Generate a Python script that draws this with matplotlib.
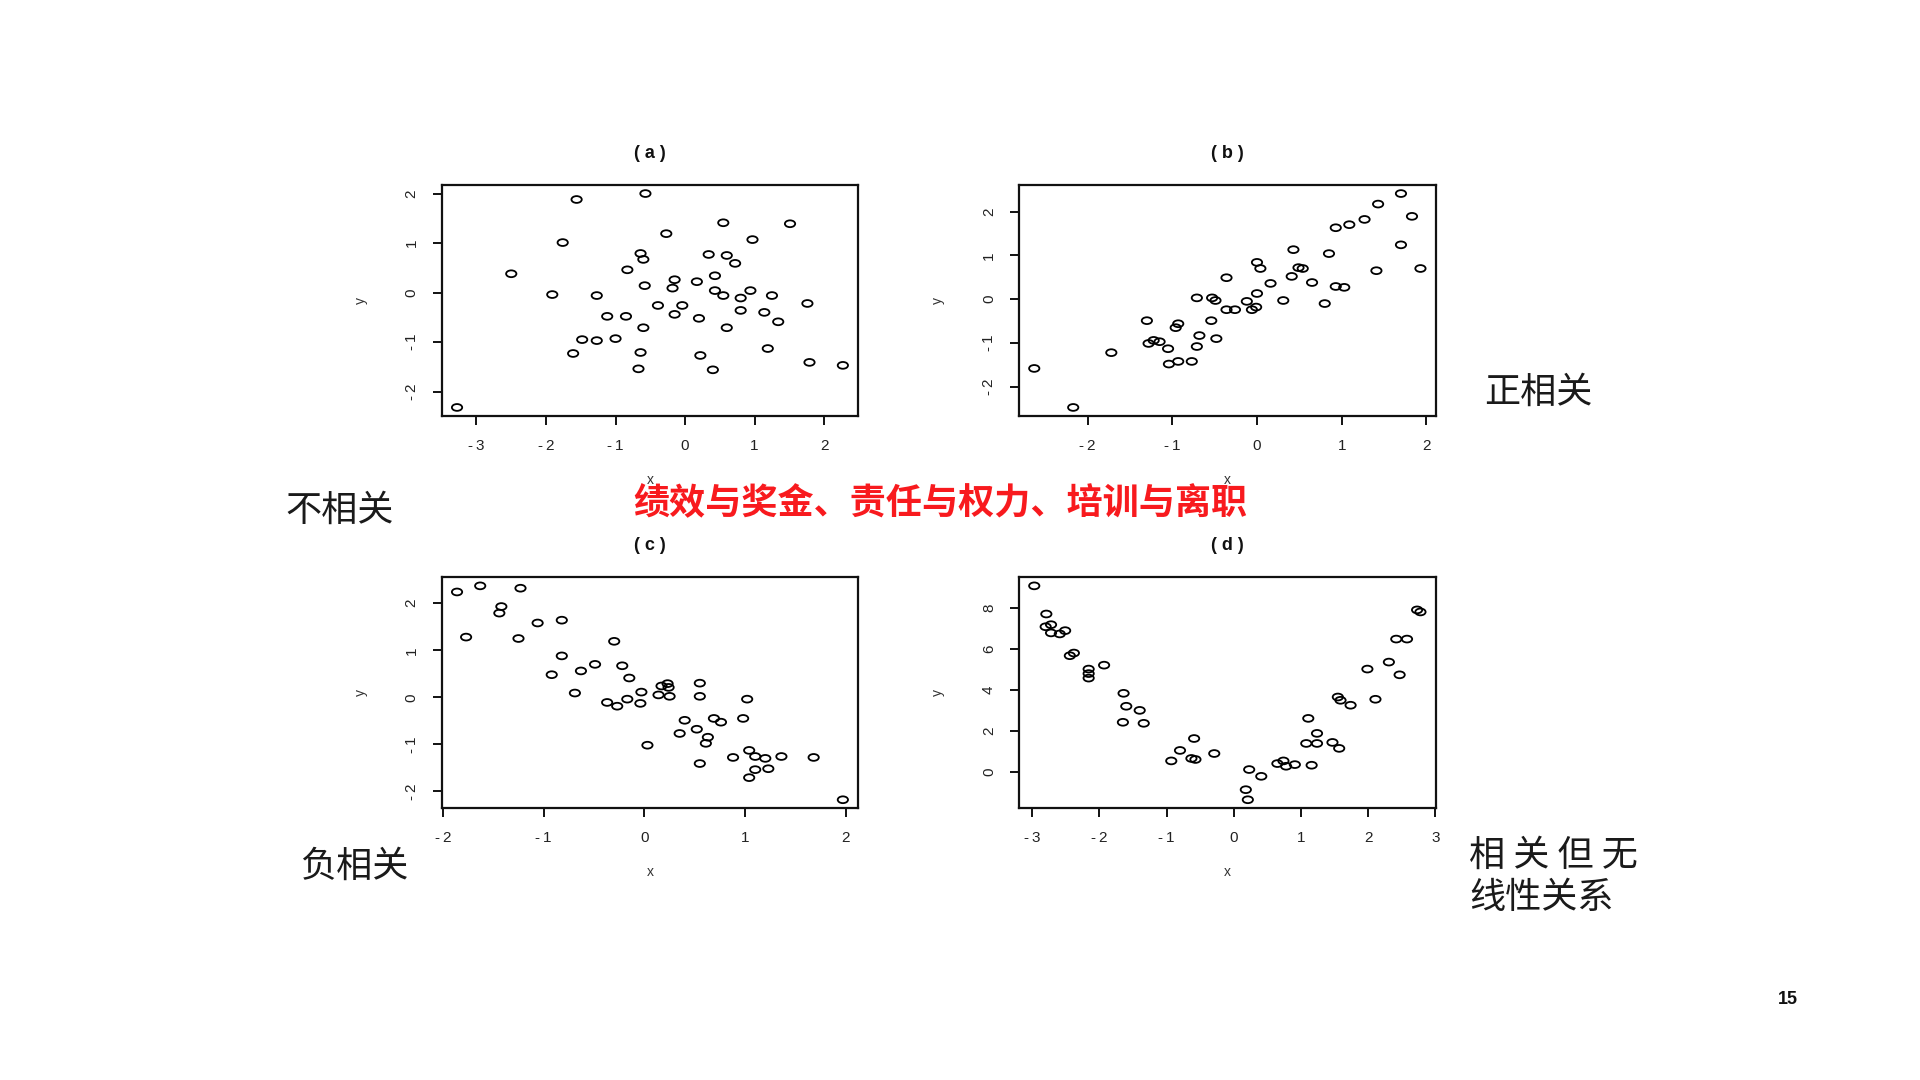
import matplotlib
matplotlib.use("Agg")
import matplotlib.pyplot as plt
from matplotlib.path import Path
from matplotlib.transforms import Affine2D

# ---------------- data ----------------
# (a) no correlation
x_a = [-3.28, -1.56, -0.57, 0.55, 1.51, -0.27, -1.76, 0.97, -0.64, -0.60,
       0.34, 0.60, 0.72, -2.50, -0.83, 0.43, -0.15, 0.17, -0.58, -0.18,
       0.43, 0.94, -1.91, -1.27, 0.55, 1.25, 0.80, 1.76, -0.39, -0.04,
       0.80, 1.14, -0.15, -1.12, -0.85, 0.20, 1.34, -0.60, 0.60, -1.00,
       -1.48, -1.27, 1.19, -1.61, -0.64, 0.22, 1.79, 2.27, -0.67, 0.40]
y_a = [-2.32, 1.88, 2.00, 1.41, 1.39, 1.19, 1.01, 1.07, 0.79, 0.67,
       0.77, 0.75, 0.59, 0.38, 0.46, 0.34, 0.26, 0.22, 0.14, 0.09,
       0.04, 0.04, -0.04, -0.06, -0.06, -0.06, -0.11, -0.22, -0.26, -0.26,
       -0.36, -0.40, -0.44, -0.48, -0.48, -0.52, -0.59, -0.71, -0.71, -0.93,
       -0.95, -0.97, -1.13, -1.23, -1.21, -1.27, -1.41, -1.47, -1.54, -1.56]

# (b) positive correlation
x_b = [-2.63, -2.17, -1.72, -1.30, -1.28, -1.22, -1.15, -1.05, -1.04, -0.93,
       -0.96, -0.93, -0.77, -0.71, -0.68, -0.71, -0.53, -0.49, -0.54, -0.48,
       -0.36, -0.36, -0.26, -0.12, -0.06, -0.01, 0.00, 0.04, 0.00, 0.16,
       0.31, 0.41, 0.43, 0.49, 0.54, 0.65, 0.80, 0.85, 0.93, 0.93,
       1.03, 1.09, 1.27, 1.41, 1.43, 1.70, 1.70, 1.83, 1.93]
y_b = [-1.58, -2.47, -1.22, -0.49, -1.01, -0.94, -0.97, -1.13, -1.48, -0.56,
       -0.65, -1.42, -1.42, 0.03, -0.83, -1.08, 0.03, -0.03, -0.49, -0.90,
       0.49, -0.24, -0.24, -0.05, -0.24, -0.18, 0.84, 0.70, 0.13, 0.36,
       -0.03, 0.52, 1.13, 0.72, 0.70, 0.38, -0.10, 1.04, 1.63, 0.29,
       0.27, 1.70, 1.82, 0.65, 2.17, 2.41, 1.24, 1.89, 0.70]

# (c) negative correlation
x_c = [-1.86, -1.63, -1.23, -1.42, -1.44, -1.06, -0.82, -1.77, -1.25, -0.30,
       -0.82, -0.49, -0.63, -0.92, -0.22, -0.15, -0.69, -0.37, -0.27, -0.17,
       -0.04, -0.03, 0.14, 0.17, 0.23, 0.24, 0.25, 0.55, 0.55, 0.03,
       0.40, 0.35, 0.52, 0.69, 0.76, 0.63, 0.61, 0.55, 1.02, 0.98,
       0.88, 1.04, 1.10, 1.20, 1.36, 1.10, 1.23, 1.04, 1.68, 1.97]
y_c = [2.24, 2.37, 2.32, 1.93, 1.79, 1.58, 1.64, 1.28, 1.25, 1.19,
       0.88, 0.70, 0.56, 0.48, 0.67, 0.41, 0.09, -0.11, -0.19, -0.04,
       -0.13, 0.11, 0.05, 0.24, 0.29, 0.21, 0.02, 0.30, 0.02, -1.02,
       -0.49, -0.77, -0.68, -0.45, -0.53, -0.85, -0.98, -1.41, -0.04, -0.45,
       -1.28, -1.13, -1.26, -1.30, -1.26, -1.54, -1.52, -1.71, -1.28, -2.18]

# (d) related but not linear
x_d = [-2.97, -2.79, -2.80, -2.72, -2.72, -2.59, -2.51, -2.44, -2.38, -2.16,
       -2.16, -2.16, -1.93, -1.64, -1.60, -1.40, -1.65, -1.34, -0.93, -0.80,
       -0.59, -0.63, -0.57, -0.29, 0.18, 0.21, 0.23, 0.41, 0.65, 0.74,
       0.78, 0.91, 1.08, 1.11, 1.16, 1.24, 1.24, 1.47, 1.55, 1.59,
       1.57, 1.74, 1.99, 2.11, 2.31, 2.42, 2.58, 2.47, 2.73, 2.78]
y_d = [9.07, 7.70, 7.08, 7.18, 6.78, 6.73, 6.89, 5.67, 5.80, 5.02,
       4.80, 4.58, 5.21, 3.84, 3.21, 3.01, 2.43, 2.38, 0.55, 1.06,
       1.64, 0.67, 0.62, 0.91, -0.85, -1.34, 0.13, -0.20, 0.42, 0.55,
       0.29, 0.37, 1.40, 2.62, 0.34, 1.89, 1.40, 1.45, 3.66, 3.50,
       1.16, 3.26, 5.02, 3.55, 5.36, 6.48, 6.48, 4.74, 7.90, 7.80]

titles = ["( a )", "( b )", "( c )", "( d )"]
xticks_list = [[-3, -2, -1, 0, 1, 2], [-2, -1, 0, 1, 2], [-2, -1, 0, 1, 2], [-3, -2, -1, 0, 1, 2, 3]]
yticks_list = [[-2, -1, 0, 1, 2], [-2, -1, 0, 1, 2], [-2, -1, 0, 1, 2], [0, 2, 4, 6, 8]]

side_labels = ["不相关", "正相关", "负相关", "相 关 但 无\n线性关系"]
center_text = "绩效与奖金、责任与权力、培训与离职"
page_number = "15"

# ---------------- figure ----------------
W, H = 1920, 1080
fig = plt.figure(figsize=(19.2, 10.8), dpi=100)
fig.patch.set_facecolor("white")

NUM_FONT = ["Liberation Sans", "DejaVu Sans"]
CJK_FONT = ["Noto Sans CJK SC", "DejaVu Sans"]

ellipse = Path.unit_circle().transformed(Affine2D().scale(1.0, 0.66))


def tick_text(v):
    return ("-\u2009" + str(abs(v))) if v < 0 else str(v)


# axes boxes in pixels: (left, top, right, bottom)
boxes = [(441.6, 185, 858.3, 416), (1018.8, 185, 1435.9, 416),
         (441.6, 577.3, 858.3, 808.3), (1018.8, 577.3, 1435.9, 808.3)]
data = [(x_a, y_a), (x_b, y_b), (x_c, y_c), (x_d, y_d)]

for i, ((l, t, r, b), (xs, ys)) in enumerate(zip(boxes, data)):
    ax = fig.add_axes([l / W, 1 - b / H, (r - l) / W, (b - t) / H])
    ax.scatter(xs, ys, marker=ellipse, s=55, facecolors="none",
               edgecolors="black", linewidths=1.3, zorder=3)
    ax.margins(0.04)
    ax.set_xticks(xticks_list[i])
    ax.set_yticks(yticks_list[i])
    ax.set_xticklabels([tick_text(v) for v in xticks_list[i]], fontfamily=NUM_FONT,
                       fontsize=11, color="#222222")
    ax.set_yticklabels([tick_text(v) for v in yticks_list[i]], fontfamily=NUM_FONT,
                       fontsize=11, color="#222222", rotation=90, va="center")
    ax.tick_params(axis="both", direction="out", length=6.5, width=1.4, color="#111111")
    ax.tick_params(axis="x", pad=10)
    ax.tick_params(axis="y", pad=10)
    for sp in ax.spines.values():
        sp.set_linewidth(1.6)
        sp.set_color("#111111")
    hgt = b - t
    wid = r - l
    ax.text(0.5, 1 + 32 / hgt, titles[i], transform=ax.transAxes, ha="center",
            va="center", fontsize=13, fontweight="bold", fontfamily=NUM_FONT,
            color="#111111")
    ax.set_xlabel("x", fontsize=10, fontfamily=NUM_FONT, color="#333333")
    ax.xaxis.set_label_coords(0.5, -64 / hgt)
    ax.xaxis.label.set_va("center")
    ax.set_ylabel("y", fontsize=10, fontfamily=NUM_FONT, color="#333333")
    ax.yaxis.set_label_coords(-81 / wid, 0.5)
    ax.yaxis.label.set_va("center")


# slide texts
def px(x, y):
    return x / W, 1 - y / H


fig.text(*px(340, 511), side_labels[0], fontfamily=CJK_FONT, fontsize=26,
         ha="center", va="center", color="#1a1a1a")
fig.text(*px(1538, 393), side_labels[1], fontfamily=CJK_FONT, fontsize=26,
         ha="center", va="center", color="#1a1a1a")
fig.text(*px(354, 867), side_labels[2], fontfamily=CJK_FONT, fontsize=26,
         ha="center", va="center", color="#1a1a1a")
fig.text(*px(1469, 877), side_labels[3], fontfamily=CJK_FONT, fontsize=26,
         ha="left", va="center", color="#1a1a1a", linespacing=1.2)
fig.text(*px(940, 504), center_text, fontfamily=CJK_FONT, fontsize=26,
         fontweight="heavy", ha="center", va="center", color="#F81A1E")
fig.text(*px(1788, 1000), page_number, fontfamily=NUM_FONT, fontsize=13,
         fontweight="bold", ha="center", va="center", color="#111111")

fig.savefig("out.png", dpi=100, facecolor="white")
